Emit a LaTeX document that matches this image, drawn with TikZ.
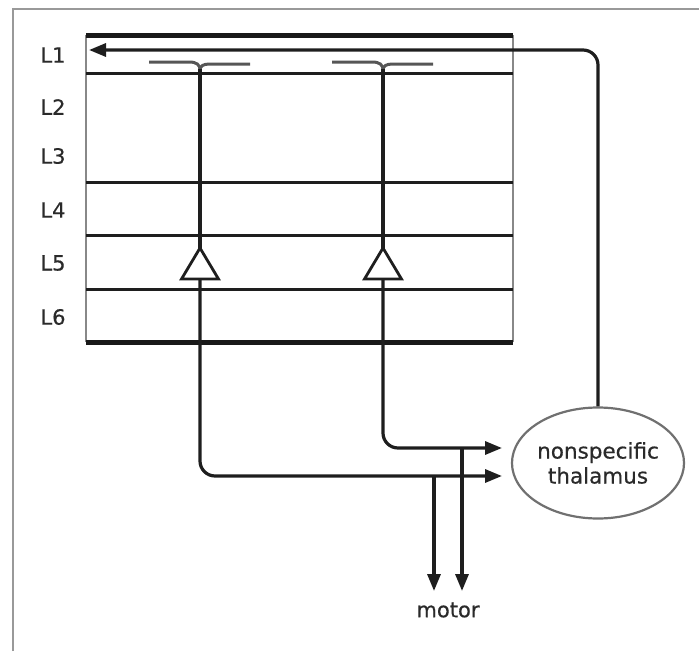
\documentclass[tikz,border=0pt]{standalone}
\usepackage{fontspec}
\setmainfont{DejaVu Sans}[BoldFont={DejaVu Sans},BoldFeatures={FakeBold=0.5}]
\usetikzlibrary{arrows.meta,shapes.geometric}
\definecolor{ink}{HTML}{1E1E1E}
\definecolor{txt}{HTML}{2A2A2A}
\definecolor{frame}{HTML}{999999}
\definecolor{side}{HTML}{888888}
\definecolor{ell}{HTML}{707070}
\tikzset{
  lbl/.style={font=\fontsize{21}{25}\selectfont\bfseries, text=txt, inner sep=0pt},
  layerline/.style={draw=ink, line width=3pt},
  thickline/.style={draw=black!90, line width=5pt},
  sideline/.style={draw=side, line width=2.2pt},
  axon/.style={draw=ink, line width=3.2pt, rounded corners=15pt},
  stem/.style={draw=ink, line width=3.1pt},
  arr/.style={-{Triangle[length=17pt,width=13pt]}},
  tuft/.style={draw=ink!75, line width=3pt},
  soma/.style={draw=ink, line width=2.8pt, fill=white, line join=miter},
}
\begin{document}
\begin{tikzpicture}[x=1pt,y=-1pt]
\useasboundingbox (0,0) rectangle (699,651);
% frame (top and left only)
\draw[frame, line width=2.2pt] (13,651) -- (13,9) -- (699,9);

% cortex box
\draw[sideline] (86,35) -- (86,342);
\draw[sideline] (513,35) -- (513,342);
\draw[thickline] (86,35) -- (513,35);
\draw[layerline] (86,73) -- (513,73);
\draw[layerline] (86,182) -- (513,182);
\draw[layerline] (86,235) -- (513,235);
\draw[layerline] (86,289) -- (513,289);
\draw[thickline] (86,342) -- (513,342);

% layer labels
\node[lbl] (l1) at (53,55) {L1};
\node[lbl] (l2) at (53,107) {L2};
\node[lbl] (l3) at (53,156) {L3};
\node[lbl] (l4) at (53,210) {L4};
\node[lbl] (l5) at (53,263) {L5};
\node[lbl] (l6) at (53,317) {L6};

% thalamus
\node[ellipse, draw=ell, line width=2.2pt, minimum width=167pt, minimum height=111pt,
      inner sep=0pt, align=center, font=\fontsize{21.5}{25}\selectfont\bfseries, text=txt]
      (thal) at (598,463) {nonspecific\\thalamus};

% coordinates
\coordinate (l1end) at (89,50);
\coordinate (in1) at (502,448);
\coordinate (in2) at (502,476);
\coordinate (m1) at (434,591);
\coordinate (m2) at (462,591);
\node[lbl] (motor) at (448,610) {motor};

% neuron 1
\coordinate (n1apex) at (200,248);
\coordinate (n1base) at (200,279);
\draw[tuft] (149,62) -- (189,62) .. controls (197,62) and (200,65) .. (200,70)
            .. controls (200,66) and (203,64) .. (210,64) -- (250,64);
\draw[stem] (200,69) -- (n1apex);
\draw[axon, arr] (n1base) -- (200,476) -- (in2);
\draw[soma] (n1apex) -- (218.5,279) -- (181.5,279) -- cycle;

% neuron 2
\coordinate (n2apex) at (383,248);
\coordinate (n2base) at (383,279);
\draw[tuft] (332,62) -- (372,62) .. controls (380,62) and (383,65) .. (383,70)
            .. controls (383,66) and (386,64) .. (393,64) -- (433,64);
\draw[stem] (383,69) -- (n2apex);
\draw[axon, arr] (n2base) -- (383,448) -- (in1);
\draw[soma] (n2apex) -- (401.5,279) -- (364.5,279) -- cycle;

% motor branches
\draw[axon, arr] (434,476) -- (m1);
\draw[axon, arr] (462,448) -- (m2);

% thalamus back to L1
\draw[axon, arr] (thal.north) -- (598,50) -- (l1end);
\end{tikzpicture}
\end{document}
